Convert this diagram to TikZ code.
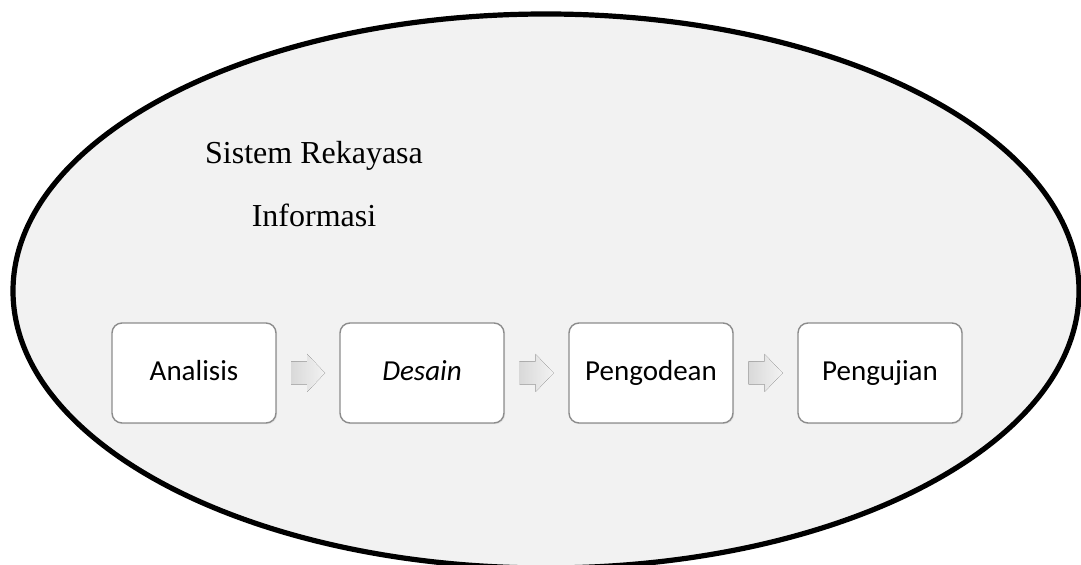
\documentclass[tikz,border=0pt]{standalone}
\usepackage{fontspec}
\setmainfont{Liberation Serif}
\newfontfamily\boxfont{Carlito}
\usetikzlibrary{shadows,calc}
\definecolor{ellfill}{HTML}{F2F2F2}
\definecolor{boxline}{HTML}{8C8C8C}
\tikzset{
  stepbox/.style={draw=boxline, line width=0.7pt, fill=white, rounded corners=5pt,
    minimum width=82pt, minimum height=50pt, inner sep=0pt,
    text height=11pt, text depth=3pt,
    font=\boxfont\fontsize{14.5}{17}\selectfont,
    drop shadow={opacity=0.12, shadow xshift=0.6pt, shadow yshift=-0.6pt}},
  titletext/.style={font=\fontsize{16}{19}\selectfont, anchor=base, inner sep=0pt},
  flowarrow/.style={left color=black!15, right color=black!5, draw=none}
}
\begin{document}
\begin{tikzpicture}[x=0.5pt,y=-0.5pt]
\useasboundingbox (0,0) rectangle (1081,565);
\clip (0,0) rectangle (1081,565);
% ellipse
\draw[line width=2.6pt, fill=ellfill] (546,291) ellipse [x radius=533, y radius=277];
% title
\node[titletext] (t1) at (314,164) {Sistem Rekayasa};
\node[titletext] (t2) at (314,227) {Informasi};
% boxes
\node[stepbox] (b1) at (194,373) {Analisis};
\node[stepbox] (b2) at (422,373) {\itshape Desain};
\node[stepbox] (b3) at (651,373) {Pengodean};
\node[stepbox] (b4) at (880,373) {Pengujian};
% arrows
\foreach \a/\b/\n in {b1/b2/a1, b2/b3/a2, b3/b4/a3}{
  \coordinate (\n) at ($(\a.east)!0.5!(\b.west)$);
  \fill[flowarrow] (\n) ++(-17,-11.5) -- ++(16,0) -- ++(0,-7.5) -- ++(18,19) -- ++(-18,19) -- ++(0,-7.5) -- ++(-16,0) -- cycle;
}
\end{tikzpicture}
\end{document}
